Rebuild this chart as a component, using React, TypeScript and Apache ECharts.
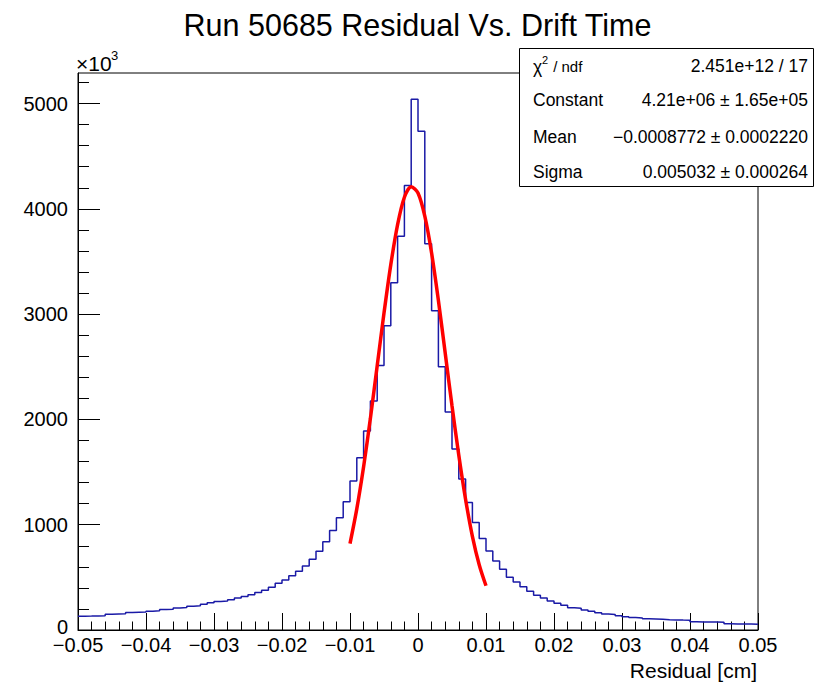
import React, { useEffect, useRef } from "react";
import * as echarts from "echarts";

// Histogram definition: 100 bins from -0.05 to 0.05 cm
const BIN_START = -0.05;
const BIN_WIDTH = 0.001;
const BIN_COUNT = 100;

// Bin contents in units of 10^3 entries
const counts = [
  131, 132, 134, 135, 150, 152, 154, 166, 168, 170,
  179, 182, 195, 198, 210, 214, 226, 230, 244, 259,
  270, 275, 288, 304, 319, 335, 356, 378, 406, 443,
  474, 515, 557, 607, 673, 749, 838, 945, 1065, 1217,
  1416, 1637, 1890, 2174, 2512, 2890, 3298, 3740, 4221, 5040,
  4736, 3668, 3032, 2500, 2071, 1720, 1434, 1212, 1022, 868,
  750, 656, 578, 500, 455, 411, 367, 329, 303, 275,
  253, 234, 212, 207, 190, 177, 164, 151, 147, 136,
  126, 119, 115, 106, 104, 102, 97, 96, 94, 93,
  78, 77, 76, 75, 74, 59, 58, 57, 56, 55,
];

// Gaussian fit curve (red), ×10^3
const fitX = [
  -0.010, -0.009, -0.008, -0.007, -0.006, -0.005, -0.004, -0.003, -0.002, -0.001,
  0.0, 0.001, 0.002, 0.003, 0.004, 0.005, 0.006, 0.007, 0.008, 0.009, 0.010,
];
const fitY = [
  820, 1150, 1550, 2010, 2510, 3010, 3470, 3850, 4110, 4210,
  4150, 3930, 3580, 3130, 2630, 2130, 1660, 1240, 890, 620, 420,
];

const yMajorTicks = [0, 1000, 2000, 3000, 4000, 5000];
const yMinorTicks = [
  200, 400, 600, 800, 1200, 1400, 1600, 1800, 2200, 2400, 2600, 2800,
  3200, 3400, 3600, 3800, 4200, 4400, 4600, 4800, 5200,
];
const Y_MAX = 5290;

const titleText = "Run 50685 Residual Vs. Drift Time";
const xAxisTitle = "Residual [cm]";

const statsLabels = ["Constant", "Mean", "Sigma"];
const statsValues = [
  "4.21e+06 \u00b1 1.65e+05",
  "\u22120.0008772 \u00b1 0.0002220",
  "0.005032 \u00b1 0.000264",
];
const chiValue = "2.451e+12 / 17";

const FONT = "'Liberation Sans', Arial, Helvetica, sans-serif";

export default function App() {
  const ref = useRef<HTMLDivElement>(null);

  useEffect(() => {
    if (!ref.current) return;
    const chart = echarts.init(ref.current, undefined, { renderer: "svg" });

    const histData: number[][] = counts.map((c, i) => [BIN_START + i * BIN_WIDTH, c]);
    histData.push([BIN_START + BIN_COUNT * BIN_WIDTH, counts[counts.length - 1]]);
    const fitData = fitX.map((x, i) => [x, fitY[i]]);

    const rowY = [100, 136.5, 171.5];

    const graphics: any[] = [
      {
        type: "text",
        x: 417.5,
        y: 25,
        style: { text: titleText, font: `30.5px ${FONT}`, fill: "#000", textAlign: "center", textVerticalAlign: "middle" },
      },
      {
        type: "text",
        x: 76,
        y: 63,
        style: { text: "\u00d710", font: `21px ${FONT}`, fill: "#000", textAlign: "left", textVerticalAlign: "middle" },
      },
      {
        type: "text",
        x: 111,
        y: 55,
        style: { text: "3", font: `13px ${FONT}`, fill: "#000", textAlign: "left", textVerticalAlign: "middle" },
      },
      {
        type: "text",
        x: 757,
        y: 670,
        style: { text: xAxisTitle, font: `21px ${FONT}`, fill: "#000", textAlign: "right", textVerticalAlign: "middle" },
      },
      {
        type: "rect",
        z: 100,
        shape: { x: 519.5, y: 48.5, width: 294, height: 138 },
        style: { fill: "#fff", stroke: "#000", lineWidth: 1 },
      },
      {
        type: "text",
        z: 101,
        x: 533,
        y: 67,
        style: { text: "\u03c7", font: `17.5px ${FONT}`, fill: "#000", textAlign: "left", textVerticalAlign: "middle" },
      },
      {
        type: "text",
        z: 101,
        x: 542,
        y: 60,
        style: { text: "2", font: `11px ${FONT}`, fill: "#000", textAlign: "left", textVerticalAlign: "middle" },
      },
      {
        type: "text",
        z: 101,
        x: 549,
        y: 66,
        style: { text: " / ndf", font: `15px ${FONT}`, fill: "#000", textAlign: "left", textVerticalAlign: "middle" },
      },
      {
        type: "text",
        z: 101,
        x: 808,
        y: 66,
        style: { text: chiValue, font: `17.5px ${FONT}`, fill: "#000", textAlign: "right", textVerticalAlign: "middle" },
      },
    ];
    statsLabels.forEach((lab, i) => {
      graphics.push({
        type: "text",
        z: 101,
        x: 533,
        y: rowY[i],
        style: { text: lab, font: `17.5px ${FONT}`, fill: "#000", textAlign: "left", textVerticalAlign: "middle" },
      });
      graphics.push({
        type: "text",
        z: 101,
        x: 808,
        y: rowY[i],
        style: { text: statsValues[i], font: `17.5px ${FONT}`, fill: "#000", textAlign: "right", textVerticalAlign: "middle" },
      });
    });

    const xFmt = (v: number) => {
      const r = Math.round(v * 100) / 100;
      if (r === 0) return "0";
      return r < 0 ? "\u2212" + Math.abs(r).toFixed(2) : r.toFixed(2);
    };

    chart.setOption({
      animation: false,
      backgroundColor: "#fff",
      grid: {
        left: 78,
        right: 68,
        top: 73,
        bottom: 54,
        show: true,
        borderColor: "#000",
        borderWidth: 1,
        backgroundColor: "transparent",
      },
      xAxis: {
        type: "value",
        min: -0.05,
        max: 0.05,
        interval: 0.01,
        axisLine: { show: true, onZero: false, lineStyle: { color: "#000", width: 1 } },
        axisTick: { show: true, inside: true, length: 17, lineStyle: { color: "#000", width: 1 } },
        minorTick: { show: true, splitNumber: 5, length: 8.5, lineStyle: { color: "#000", width: 1 } },
        splitLine: { show: false },
        minorSplitLine: { show: false },
        axisLabel: {
          show: true,
          showMinLabel: true,
          showMaxLabel: true,
          formatter: xFmt,
          color: "#000",
          fontSize: 20,
          fontFamily: FONT,
          margin: 5,
          hideOverlap: false,
        },
      },
      yAxis: [
        {
          type: "value",
          min: 0,
          max: Y_MAX,
          position: "left",
          axisLine: { show: true, onZero: false, lineStyle: { color: "#000", width: 1 } },
          axisTick: { show: true, inside: true, length: 22, customValues: yMajorTicks, lineStyle: { color: "#000", width: 1 } },
          splitLine: { show: false },
          axisLabel: {
            show: true,
            customValues: yMajorTicks,
            formatter: (v: number) => (Math.round(v) === 0 ? "{z|0}" : String(Math.round(v))),
            rich: { z: { fontSize: 20, fontFamily: FONT, color: "#000", padding: [0, 0, 6, 0] } },
            color: "#000",
            fontSize: 20,
            fontFamily: FONT,
            margin: 10,
          },
        },
        {
          type: "value",
          min: 0,
          max: Y_MAX,
          position: "left",
          offset: 0,
          axisLine: { show: false, onZero: false },
          axisTick: { show: true, inside: true, length: 11, customValues: yMinorTicks, lineStyle: { color: "#000", width: 1 } },
          splitLine: { show: false },
          axisLabel: { show: false },
        },
      ],
      series: [
        {
          name: "hist",
          type: "line",
          yAxisIndex: 0,
          data: histData,
          step: "end",
          showSymbol: false,
          symbol: "none",
          clip: true,
          lineStyle: { color: "#1a1aa6", width: 1.5 },
          z: 3,
        },
        {
          name: "fit",
          type: "line",
          yAxisIndex: 0,
          data: fitData,
          smooth: 0.3,
          showSymbol: false,
          symbol: "none",
          clip: true,
          lineStyle: { color: "#ff0000", width: 3.5 },
          z: 4,
        },
      ],
      graphic: graphics,
    });

    return () => {
      chart.dispose();
    };
  }, []);

  return (
    <div
      ref={ref}
      style={{ position: "fixed", left: 0, top: 0, width: 826, height: 684, background: "#fff" }}
    />
  );
}
